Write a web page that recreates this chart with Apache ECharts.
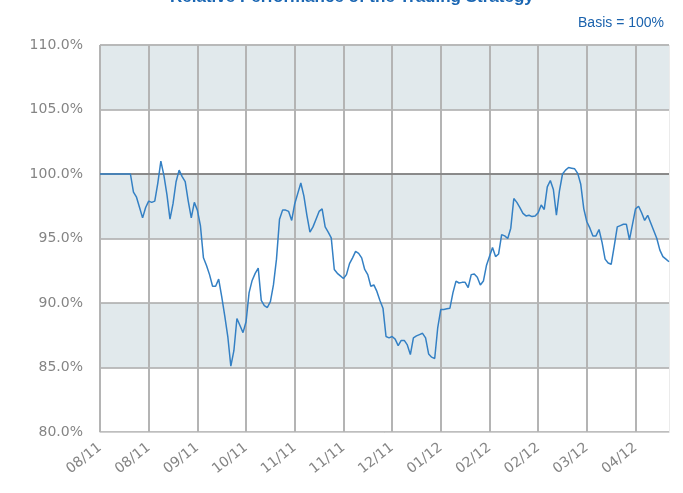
<!DOCTYPE html>
<html>
<head>
<meta charset="utf-8">
<script src="https://cdn.jsdelivr.net/npm/echarts@6/dist/echarts.min.js"></script>
<style>html,body{margin:0;padding:0;background:#fff}#c{width:683px;height:493px}</style>
</head>
<body>
<div id="c"></div>
<script>
// Tick labels along the x axis (one every 16 observations)
var tickLabels = ['08/11','08/11','09/11','10/11','11/11','11/11','12/11','01/12','02/12','02/12','03/12','04/12'];
var labelStep = 16;

// Performance relative to basis (%), one value per observation
var values = [
  100,100,100,100,100,100,100,100,100,100,
  100,98.6,98.2,97.4,96.6,97.4,97.9,97.8,97.9,99.3,
  101.0,99.9,98.4,96.5,97.7,99.4,100.3,99.8,99.4,97.9,
  96.6,97.8,97.2,96.0,93.5,92.9,92.2,91.3,91.3,91.85,
  90.5,89.0,87.4,85.1,86.3,88.8,88.25,87.7,88.55,90.8,
  91.75,92.3,92.7,90.2,89.8,89.65,90.1,91.4,93.4,96.5,
  97.2,97.2,97.1,96.4,97.7,98.5,99.3,98.3,96.8,95.5,
  95.9,96.5,97.1,97.3,95.9,95.5,95.05,92.6,92.3,92.1,
  91.9,92.2,93.05,93.5,94.0,93.85,93.5,92.6,92.2,91.3,
  91.4,90.9,90.2,89.6,87.4,87.3,87.4,87.2,86.7,87.1,
  87.1,86.75,86.0,87.3,87.45,87.55,87.65,87.3,86.05,85.8,
  85.7,88.1,89.5,89.5,89.55,89.6,90.8,91.7,91.55,91.6,
  91.6,91.2,92.2,92.25,92.0,91.4,91.7,92.9,93.6,94.3,
  93.6,93.8,95.3,95.2,95.0,95.8,98.1,97.8,97.4,96.95,
  96.75,96.8,96.7,96.75,97.0,97.6,97.25,99.0,99.5,98.8,
  96.8,98.7,100.0,100.3,100.5,100.45,100.4,100.05,99.2,97.3,
  96.3,95.8,95.2,95.2,95.7,94.7,93.4,93.1,93.0,94.4,
  95.9,96.0,96.1,96.1,94.9,96.1,97.3,97.5,97.0,96.4,
  96.8,96.2,95.6,95.0,94.1,93.6,93.4,93.2
];
var basis = 100;

var categories = values.map(function(_, i){ return i; });

var chart = echarts.init(document.getElementById('c'), null, {renderer:'canvas'});
chart.setOption({
  animation: false,
  backgroundColor: '#ffffff',
  title: [{
    text: 'Relative Performance of the Trading Strategy',
    left: 165, top: -16,
    textStyle: {color: '#1a66b3', fontSize: 17, fontWeight: 'bold', fontFamily: 'Liberation Sans'}
  },{
    text: 'Basis = 100%',
    right: 14, top: 11,
    textStyle: {color: '#1a62ad', fontSize: 14, fontWeight: 'normal', fontFamily: 'Liberation Sans'}
  }],
  grid: {left: 100, right: 14, top: 45, bottom: 61, show: true, borderColor: '#d8d8d8', borderWidth: 1, backgroundColor: 'transparent'},
  xAxis: {
    type: 'category',
    data: categories,
    boundaryGap: false,
    axisLine: {show: true, lineStyle: {color: '#d0d0d0'}},
    axisTick: {show: false},
    axisLabel: {
      interval: labelStep - 1,
      rotate: 38,
      color: '#858585',
      fontSize: 14,
      fontFamily: 'DejaVu Sans',
      margin: 14,
      formatter: function(v, idx){ return tickLabels[Math.round(idx / labelStep)] || ''; }
    },
    splitLine: {show: true, interval: labelStep - 1, lineStyle: {color: '#b4b4b4', width: 2}}
  },
  yAxis: {
    type: 'value',
    min: 80, max: 110, interval: 5,
    axisLine: {show: false},
    axisTick: {show: false},
    axisLabel: {
      color: '#858585', fontSize: 14, fontFamily: 'DejaVu Sans', margin: 17,
      formatter: function(v){ return v.toFixed(1) + '%'; }
    },
    splitLine: {show: true, lineStyle: {color: '#a8a8a8', width: 1.5}},
    splitArea: {show: true, areaStyle: {color: ['#ffffff', '#e1e9ec']}}
  },
  series: [{
    type: 'line',
    data: values,
    symbol: 'none',
    lineStyle: {color: '#3480c4', width: 1.5},
    z: 3,
    markLine: {
      silent: true,
      symbol: 'none',
      label: {show: false},
      lineStyle: {color: '#7a7a7a', width: 1.5, type: 'solid'},
      data: [{yAxis: basis}],
      z: 2
    }
  }]
});
</script>
</body>
</html>
